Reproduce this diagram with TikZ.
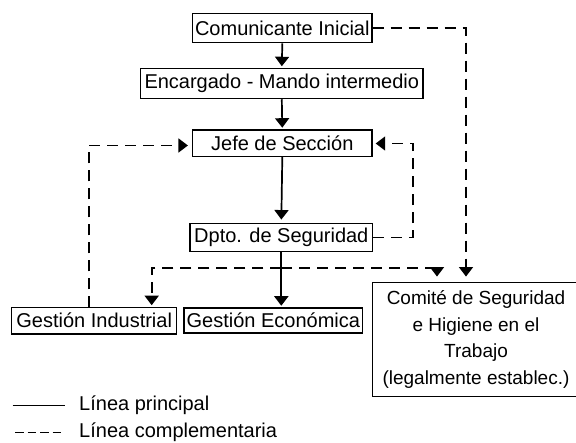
\documentclass[tikz,border=0pt]{standalone}
\usepackage{fontspec}
\setmainfont{Liberation Sans}
\usetikzlibrary{arrows.meta}
\begin{document}
\begin{tikzpicture}[x=1pt,y=-1pt,
  box/.style={draw, line width=1.5pt, inner sep=0pt, font=\fontsize{20}{26.7}\selectfont},
  lbl/.style={inner sep=0pt, anchor=west, font=\fontsize{20}{26.7}\selectfont},
  tipA/.style={-{Triangle[width=14pt,length=9.5pt]}},
  mainline/.style={line width=1.7pt},
  auxline/.style={line width=1.7pt, dash pattern=on 11pt off 7pt},
]
\fill[white] (0,0) rectangle (576,443);
\clip (0,0) rectangle (576,443);
% boxes
\node[box, minimum width=179.3pt, minimum height=29.4pt] (com) at (282.3,28) {Comunicante Inicial};
\node[box, minimum width=282.3pt, minimum height=30pt] (enc) at (281.8,83.5) {Encargado - Mando intermedio};
\node[box, minimum width=179.3pt, minimum height=26.5pt] (jefe) at (282.3,143.2) {Jefe de Sección};
\node[box, minimum width=182.7pt, minimum height=28.4pt] (dpto) at (281.3,237.5) {Dpto. de Seguridad};
\node[box, minimum width=165pt, minimum height=26.5pt] (gind) at (94.2,320.7) {Gestión Industrial};
\node[box, minimum width=178.7pt, minimum height=25pt] (gecon) at (273.3,320.5) {Gestión Económica};
\node[box, minimum width=216pt, minimum height=114.4pt] (comite) at (480.5,339.5) {};
\node[inner sep=0pt, align=center, font=\fontsize{19}{26.7}\selectfont] (comtxt) at (476,339.5)
  {Comité de Seguridad\\e Higiene en el\\Trabajo\\(legalmente establec.)};
% bend points
\coordinate (rA) at (466,28);
\coordinate (rB) at (413,143.5);
\coordinate (split) at (281.3,268);
\coordinate (bL) at (151.7,268);
\coordinate (bR) at (437,268);
\coordinate (lA) at (89.3,145.5);
\coordinate (lB) at (89.3,307.5);
% main lines
\draw[mainline,tipA, shorten >=1.5pt] (com.south) -- (enc.north);
\draw[mainline,tipA, shorten >=1.5pt] (enc.south) -- (jefe.north);
\draw[mainline,tipA, shorten >=3pt] (jefe.south) -- (dpto.north);
\draw[mainline,tipA, shorten >=1.5pt] (dpto.south) -- (dpto.south |- gecon.north);
% complementary lines
\draw[auxline,tipA, shorten >=5pt] (com.east) -- (rA) -- (rA |- comite.north);
\draw[auxline,tipA, shorten >=3pt] (dpto.east) -| (rB) -- (jefe.east |- rB);
\draw[auxline,tipA, shorten >=1.5pt] (split) -- (bL) -- (bL |- gind.north);
\draw[auxline,tipA, shorten >=5pt] (split) -- (bR) -- (bR |- comite.north);
\draw[auxline,tipA, shorten >=4pt] (lB) -- (lA) -- (jefe.west |- lA);
% legend
\coordinate (s1) at (12.7,405.7);
\coordinate (s2) at (65,405.7);
\coordinate (d1) at (15,432.7);
\coordinate (d2) at (62,432.7);
\draw[line width=1.5pt] (s1) -- (s2);
\draw[line width=1.5pt, dash pattern=on 8.5pt off 4pt] (d1) -- (d2);
\node[lbl] (lp) at (79,405) {Línea principal};
\node[lbl] (lc) at (79,432) {Línea complementaria};
\end{tikzpicture}
\end{document}
